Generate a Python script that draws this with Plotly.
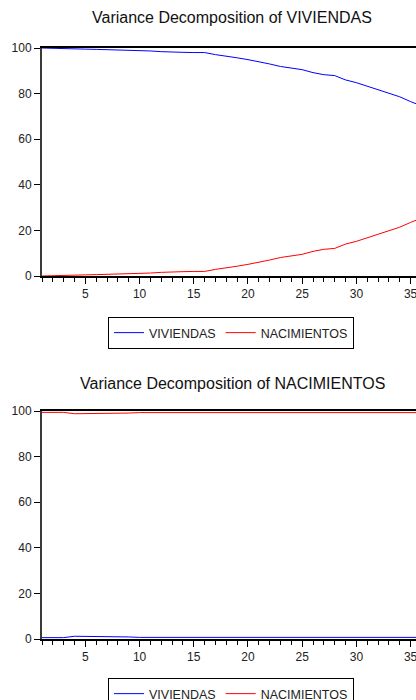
import plotly.graph_objects as go

# Forecast horizon (periods)
periods = list(range(1, 37))

# Variance decomposition of VIVIENDAS (percent)
viv_viv = [100.0, 99.8, 99.7, 99.6, 99.5, 99.4, 99.3, 99.2, 99.1, 98.9,
           98.7, 98.4, 98.4, 98.1, 98.0, 98.0, 97.1, 96.5, 95.7, 94.9,
           94.1, 93.0, 91.9, 91.1, 90.5, 89.2, 88.3, 87.9, 86.0, 84.8,
           83.3, 81.8, 80.4, 78.6, 76.5, 74.6]
viv_nac = [0.0, 0.2, 0.3, 0.4, 0.5, 0.6, 0.7, 0.8, 0.9, 1.1,
           1.3, 1.6, 1.6, 1.9, 2.0, 2.0, 2.9, 3.5, 4.3, 5.1,
           5.9, 7.0, 8.1, 8.9, 9.5, 10.8, 11.7, 12.1, 14.0, 15.2,
           16.7, 18.2, 19.6, 21.4, 23.5, 25.4]

# Variance decomposition of NACIMIENTOS (percent)
nac_viv = [0.6, 0.6, 0.6, 1.2, 1.2, 1.1, 1.1, 1.0, 0.9, 0.7,
           0.7, 0.7, 0.7, 0.7, 0.7, 0.7, 0.7, 0.7, 0.7, 0.7,
           0.7, 0.7, 0.7, 0.7, 0.7, 0.7, 0.7, 0.7, 0.7, 0.7,
           0.7, 0.7, 0.7, 0.7, 0.7, 0.7]
nac_nac = [99.4, 99.4, 99.4, 98.8, 98.8, 98.9, 98.9, 99.0, 99.1, 99.3,
           99.3, 99.3, 99.3, 99.3, 99.3, 99.3, 99.3, 99.3, 99.3, 99.3,
           99.3, 99.3, 99.3, 99.3, 99.3, 99.3, 99.3, 99.3, 99.3, 99.3,
           99.3, 99.3, 99.3, 99.3, 99.3, 99.3]

titles = ["Variance Decomposition of VIVIENDAS",
          "Variance Decomposition of NACIMIENTOS"]
y_ticks = [0, 20, 40, 60, 80, 100]

W, H = 416, 700
L = 42
FONT = "Liberation Sans, Arial, sans-serif"
BLUE, RED = "#0000ff", "#ff0000"

fig = go.Figure()

panels = [
    dict(viv=viv_viv, nac=viv_nac, xa="x", ya="y", legend="legend"),
    dict(viv=nac_viv, nac=nac_nac, xa="x2", ya="y2", legend="legend2"),
]
for p in panels:
    fig.add_trace(go.Scatter(x=periods, y=p["viv"], mode="lines", name="VIVIENDAS",
                             line=dict(color=BLUE, width=1),
                             xaxis=p["xa"], yaxis=p["ya"], legend=p["legend"]))
    fig.add_trace(go.Scatter(x=periods, y=p["nac"], mode="lines", name="NACIMIENTOS",
                             line=dict(color=RED, width=1),
                             xaxis=p["xa"], yaxis=p["ya"], legend=p["legend"]))


def py(px):
    """Pixel row from the top -> paper y."""
    return 1 - px / H


def px_x(px):
    """Pixel column from the left -> paper x (plot area starts at L)."""
    return (px - L) / (W - L)


xaxis_common = dict(
    range=[1, 35.5], tickmode="linear", tick0=0, dtick=5,
    ticks="outside", ticklen=6, tickwidth=1, tickcolor="#000",
    minor=dict(dtick=1, tick0=0, ticks="outside", ticklen=4, tickcolor="#000", tickwidth=1),
    showline=True, linecolor="#000", linewidth=2, mirror=True,
    showgrid=False, zeroline=False, ticklabeloverflow="allow",
    tickfont=dict(family=FONT, size=12, color="#222"),
)
yaxis_common = dict(
    range=[0, 100], tickvals=y_ticks,
    ticks="outside", ticklen=6, tickwidth=1, tickcolor="#000",
    showline=True, linecolor="#3a3a3a", linewidth=2,
    showgrid=False, zeroline=False,
    tickfont=dict(family=FONT, size=12, color="#222"),
)

legend_common = dict(
    orientation="h", xanchor="center", yanchor="top",
    bordercolor="#000", borderwidth=1, bgcolor="#fff",
    font=dict(family=FONT, size=12.5, color="#222"),
    itemwidth=30, tracegroupgap=0,
)

title_font = dict(family=FONT, size=16, color="#111")

fig.update_layout(
    width=W, height=H,
    margin=dict(l=L, r=0, t=0, b=0, autoexpand=False),
    paper_bgcolor="#fff", plot_bgcolor="#fff",
    xaxis=dict(domain=[0, 1], anchor="y", **xaxis_common),
    yaxis=dict(domain=[py(276), py(48)], anchor="x", **yaxis_common),
    xaxis2=dict(domain=[0, 1], anchor="y2", **xaxis_common),
    yaxis2=dict(domain=[py(639), py(411)], anchor="x2", **yaxis_common),
    legend=dict(x=px_x(231), y=py(317), **legend_common),
    legend2=dict(x=px_x(231), y=py(678), **legend_common),
    annotations=[
        dict(text=titles[0], x=px_x(232), xref="paper", y=py(18), yref="paper",
             showarrow=False, xanchor="center", yanchor="middle", font=title_font),
        dict(text=titles[1], x=px_x(232), xref="paper", y=py(383), yref="paper",
             showarrow=False, xanchor="center", yanchor="middle", font=title_font),
    ],
    showlegend=True,
)

fig.write_html("out.html")
